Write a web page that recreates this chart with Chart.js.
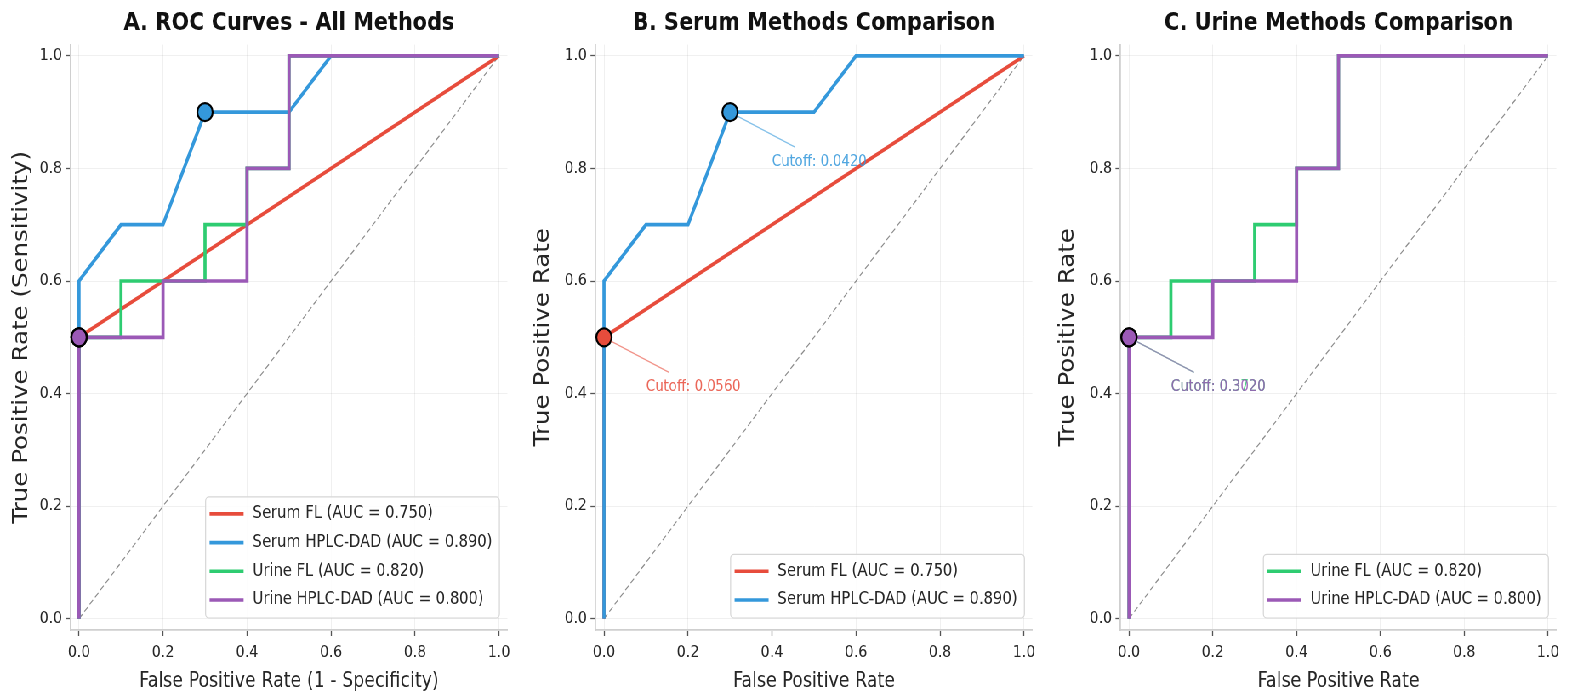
<!DOCTYPE html>
<html>
<head>
<meta charset="utf-8">
<title>ROC Curves</title>
<script src="https://cdn.jsdelivr.net/npm/chart.js@4.4.1/dist/chart.umd.min.js"></script>
<style>
  html, body { margin: 0; padding: 0; background: #ffffff; overflow: hidden; }
  #stage { position: relative; width: 1572px; height: 698px; overflow: hidden; background: #ffffff; }
  #inner { position: absolute; left: 0; top: 0; height: 698px; transform-origin: 0 0; }
  #inner canvas { position: absolute; top: 0; }
</style>
</head>
<body>
<div id="stage">
  <div id="inner">
    <canvas id="rocA"></canvas>
    <canvas id="rocB"></canvas>
    <canvas id="rocC"></canvas>
  </div>
</div>
<script>
// ---- ROC data (false positive rate / true positive rate per method) ----
const serumFlFpr   = [0, 0, 1];
const serumFlTpr   = [0, 0.5, 1];
const serumHplcFpr = [0, 0, 0.1, 0.2, 0.3, 0.5, 0.6, 1];
const serumHplcTpr = [0, 0.6, 0.7, 0.7, 0.9, 0.9, 1.0, 1.0];
const urineFlFpr   = [0, 0, 0.1, 0.1, 0.3, 0.3, 0.4, 0.4, 0.5, 0.5, 1];
const urineFlTpr   = [0, 0.5, 0.5, 0.6, 0.6, 0.7, 0.7, 0.8, 0.8, 1.0, 1.0];
const urineHplcFpr = [0, 0, 0.2, 0.2, 0.4, 0.4, 0.5, 0.5, 1];
const urineHplcTpr = [0, 0.5, 0.5, 0.6, 0.6, 0.8, 0.8, 1.0, 1.0];

const methodNames  = ['Serum FL', 'Serum HPLC-DAD', 'Urine FL', 'Urine HPLC-DAD'];
const aucValues    = [0.750, 0.890, 0.820, 0.800];
const optimalFpr   = [0, 0.3, 0, 0];
const optimalTpr   = [0.5, 0.9, 0.5, 0.5];
const cutoffValues = ['0.0560', '0.0420', '0.3720', '0.3020'];

const chanceFpr = [0, 1];
const chanceTpr = [0, 1];
const tickValues = [0, 0.2, 0.4, 0.6, 0.8, 1.0];

const panelTitles = ['A. ROC Curves - All Methods', 'B. Serum Methods Comparison', 'C. Urine Methods Comparison'];
const xAxisLabels = ['False Positive Rate (1 - Specificity)', 'False Positive Rate', 'False Positive Rate'];
const yAxisLabels = ['True Positive Rate (Sensitivity)', 'True Positive Rate', 'True Positive Rate'];
const panelMethods = [[0, 1, 2, 3], [0, 1], [2, 3]];
const panelCutoffs = [[], [0, 1], [2, 3]];

const fprSeries = [serumFlFpr, serumHplcFpr, urineFlFpr, urineHplcFpr];
const tprSeries = [serumFlTpr, serumHplcTpr, urineFlTpr, urineHplcTpr];

// ---- styling / layout ----
const COLORS = ['#e74c3c', '#3498db', '#2ecc71', '#9b59b6'];
const FONT = '"DejaVu Sans", "Liberation Sans", sans-serif';
const K = 524 / 616;          // horizontal compression of the whole figure
const PANEL_W = 616;          // one panel's canvas width before compression
const H = 698;
const AREA_TOP = 44.6;
const X_AXIS_H = 68;
// plot box edges and y-title centre, in screen pixels, per panel
const panelBox = [
  { left: 70.6, right: 507.4, yTitle: 22.0 },
  { left: 71.6, right: 508.4, yTitle: 19.5 },
  { left: 72.6, right: 508.4, yTitle: 20.5 }
];

const inner = document.getElementById('inner');
inner.style.width = (PANEL_W * 3) + 'px';
inner.style.transform = 'scaleX(' + K + ')';

function withAlpha(hex, a) {
  const n = parseInt(hex.slice(1), 16);
  return 'rgba(' + ((n >> 16) & 255) + ',' + ((n >> 8) & 255) + ',' + (n & 255) + ',' + a + ')';
}
function points(xs, ys) { return xs.map((x, i) => ({ x: x, y: ys[i] })); }

// panel heading centred over the plot box
const panelTitle = {
  id: 'panelTitle',
  afterDraw(chart, args, opts) {
    const a = chart.chartArea, ctx = chart.ctx;
    ctx.save();
    ctx.font = 'bold 24.5px ' + FONT;
    ctx.fillStyle = '#111111';
    ctx.textAlign = 'center';
    ctx.textBaseline = 'middle';
    ctx.fillText(opts.text, (a.left + a.right) / 2, 23.5);
    ctx.restore();
  }
};

// "Cutoff" call-outs next to the optimal operating points
function cutoffNotes(methods) {
  return {
    id: 'cutoffNotes',
    afterDatasetsDraw(chart) {
      const ctx = chart.ctx, xs = chart.scales.x, ys = chart.scales.y;
      ctx.save();
      methods.forEach(i => {
        const px = xs.getPixelForValue(optimalFpr[i]);
        const py = ys.getPixelForValue(optimalTpr[i]);
        const ex = px + 65 / K, ey = py + 35;
        const len = Math.hypot(ex - px, ey - py);
        ctx.strokeStyle = withAlpha(COLORS[i], 0.6);
        ctx.lineWidth = 1.3;
        ctx.beginPath();
        ctx.moveTo(px + (ex - px) * 9 / len, py + (ey - py) * 9 / len);
        ctx.lineTo(ex, ey);
        ctx.stroke();
        ctx.font = '15.5px ' + FONT;
        ctx.fillStyle = withAlpha(COLORS[i], 0.85);
        ctx.textAlign = 'left';
        ctx.textBaseline = 'middle';
        ctx.fillText('Cutoff: ' + cutoffValues[i], px + 42 / K, py + 50);
      });
      ctx.restore();
    }
  };
}

// legend box in the lower-right corner of the plot
const cornerLegend = {
  id: 'cornerLegend',
  afterDatasetsDraw(chart) {
    const items = chart.data.datasets.filter(d => d.isCurve);
    const ctx = chart.ctx, a = chart.chartArea;
    ctx.save();
    ctx.font = '17.3px ' + FONT;
    const textW = Math.max.apply(null, items.map(d => ctx.measureText(d.label).width));
    const padL = 4 / K, handle = 34 / K, gap = 9 / K, padR = 7 / K;
    const rowH = 28.7;
    const w = padL + handle + gap + textW + padR;
    const h = items.length * rowH + 6.3;
    const right = a.right - 8 / K, bottom = a.bottom - 12;
    const left = right - w, top = bottom - h;
    ctx.beginPath();
    ctx.roundRect(left, top, w, h, 4);
    ctx.fillStyle = 'rgba(255,255,255,0.85)';
    ctx.fill();
    ctx.strokeStyle = '#d6d6d6';
    ctx.lineWidth = 1.2;
    ctx.stroke();
    items.forEach((d, k) => {
      const cy = top + 2.65 + rowH * (k + 0.5);
      ctx.strokeStyle = d.borderColor;
      ctx.lineWidth = 3.6;
      ctx.beginPath();
      ctx.moveTo(left + padL, cy);
      ctx.lineTo(left + padL + handle, cy);
      ctx.stroke();
      ctx.fillStyle = '#262626';
      ctx.textAlign = 'left';
      ctx.textBaseline = 'middle';
      ctx.fillText(d.label, left + padL + handle + gap, cy);
    });
    ctx.restore();
  }
};

function buildPanel(p, canvasId) {
  const canvas = document.getElementById(canvasId);
  canvas.width = PANEL_W;
  canvas.height = H;
  canvas.style.left = (p * PANEL_W) + 'px';
  const box = panelBox[p];
  const leftInner = box.left / K;
  const rightPad = PANEL_W - box.right / K;

  const datasets = [{
    label: 'chance',
    data: points(chanceFpr, chanceTpr),
    borderColor: 'rgba(0,0,0,0.45)',
    borderWidth: 1.2,
    borderDash: [6, 3.5],
    pointRadius: 0,
    order: 20
  }];
  panelMethods[p].forEach(i => datasets.push({
    label: methodNames[i] + ' (AUC = ' + aucValues[i].toFixed(3) + ')',
    isCurve: true,
    data: points(fprSeries[i], tprSeries[i]),
    borderColor: COLORS[i],
    backgroundColor: COLORS[i],
    borderWidth: 3.7,
    borderJoinStyle: 'miter',
    borderCapStyle: 'butt',
    pointRadius: 0,
    tension: 0,
    fill: false,
    clip: false,
    order: 10 - i
  }));
  panelMethods[p].forEach(i => datasets.push({
    label: 'optimal',
    data: [{ x: optimalFpr[i], y: optimalTpr[i] }],
    showLine: false,
    pointRadius: 9,
    pointHoverRadius: 9,
    pointBackgroundColor: COLORS[i],
    pointBorderColor: '#000000',
    pointBorderWidth: 2.2,
    clip: false,
    order: 5 - i
  }));

  const tickFont = { family: FONT, size: 16.6 };
  const yTitleSize = 24.5;

  return new Chart(canvas, {
    type: 'line',
    data: { datasets: datasets },
    options: {
      responsive: false,
      animation: false,
      devicePixelRatio: 1,
      events: [],
      layout: { padding: { left: 0, right: rightPad, top: AREA_TOP, bottom: 0 } },
      scales: {
        x: {
          type: 'linear',
          min: -0.02,
          max: 1.02,
          afterBuildTicks: s => { s.ticks = tickValues.map(v => ({ value: v })); },
          afterFit: s => { s.height = X_AXIS_H; },
          ticks: { font: tickFont, color: '#262626', padding: 7, maxRotation: 0, autoSkip: false,
                   callback: v => Number(v).toFixed(1) },
          grid: { color: 'rgba(0,0,0,0.06)', lineWidth: 1, tickLength: 6, tickColor: '#555555', tickWidth: 1.3 },
          border: { display: true, color: '#cfcfcf', width: 1.8 },
          title: { display: true, text: xAxisLabels[p], color: '#262626',
                   font: { family: FONT, size: 20.5 }, padding: { top: 0, bottom: 3.7 } }
        },
        y: {
          type: 'linear',
          min: -0.02,
          max: 1.02,
          afterBuildTicks: s => { s.ticks = tickValues.map(v => ({ value: v })); },
          afterFit: s => { s.width = leftInner; },
          ticks: { font: tickFont, color: '#262626', padding: 4,
                   callback: v => Number(v).toFixed(1) },
          grid: { color: 'rgba(0,0,0,0.06)', lineWidth: 1, tickLength: 6, tickColor: '#555555', tickWidth: 1.3 },
          border: { display: true, color: '#cfcfcf', width: 1.8 },
          title: { display: true, text: yAxisLabels[p], color: '#262626',
                   font: { family: FONT, size: yTitleSize },
                   padding: { top: box.yTitle / K - yTitleSize * 0.6, bottom: 0 } }
        }
      },
      plugins: {
        legend: { display: false },
        tooltip: { enabled: false },
        title: { display: false },
        panelTitle: { text: panelTitles[p] }
      }
    },
    plugins: [panelTitle, cutoffNotes(panelCutoffs[p]), cornerLegend]
  });
}

buildPanel(0, 'rocA');
buildPanel(1, 'rocB');
buildPanel(2, 'rocC');
</script>
</body>
</html>
